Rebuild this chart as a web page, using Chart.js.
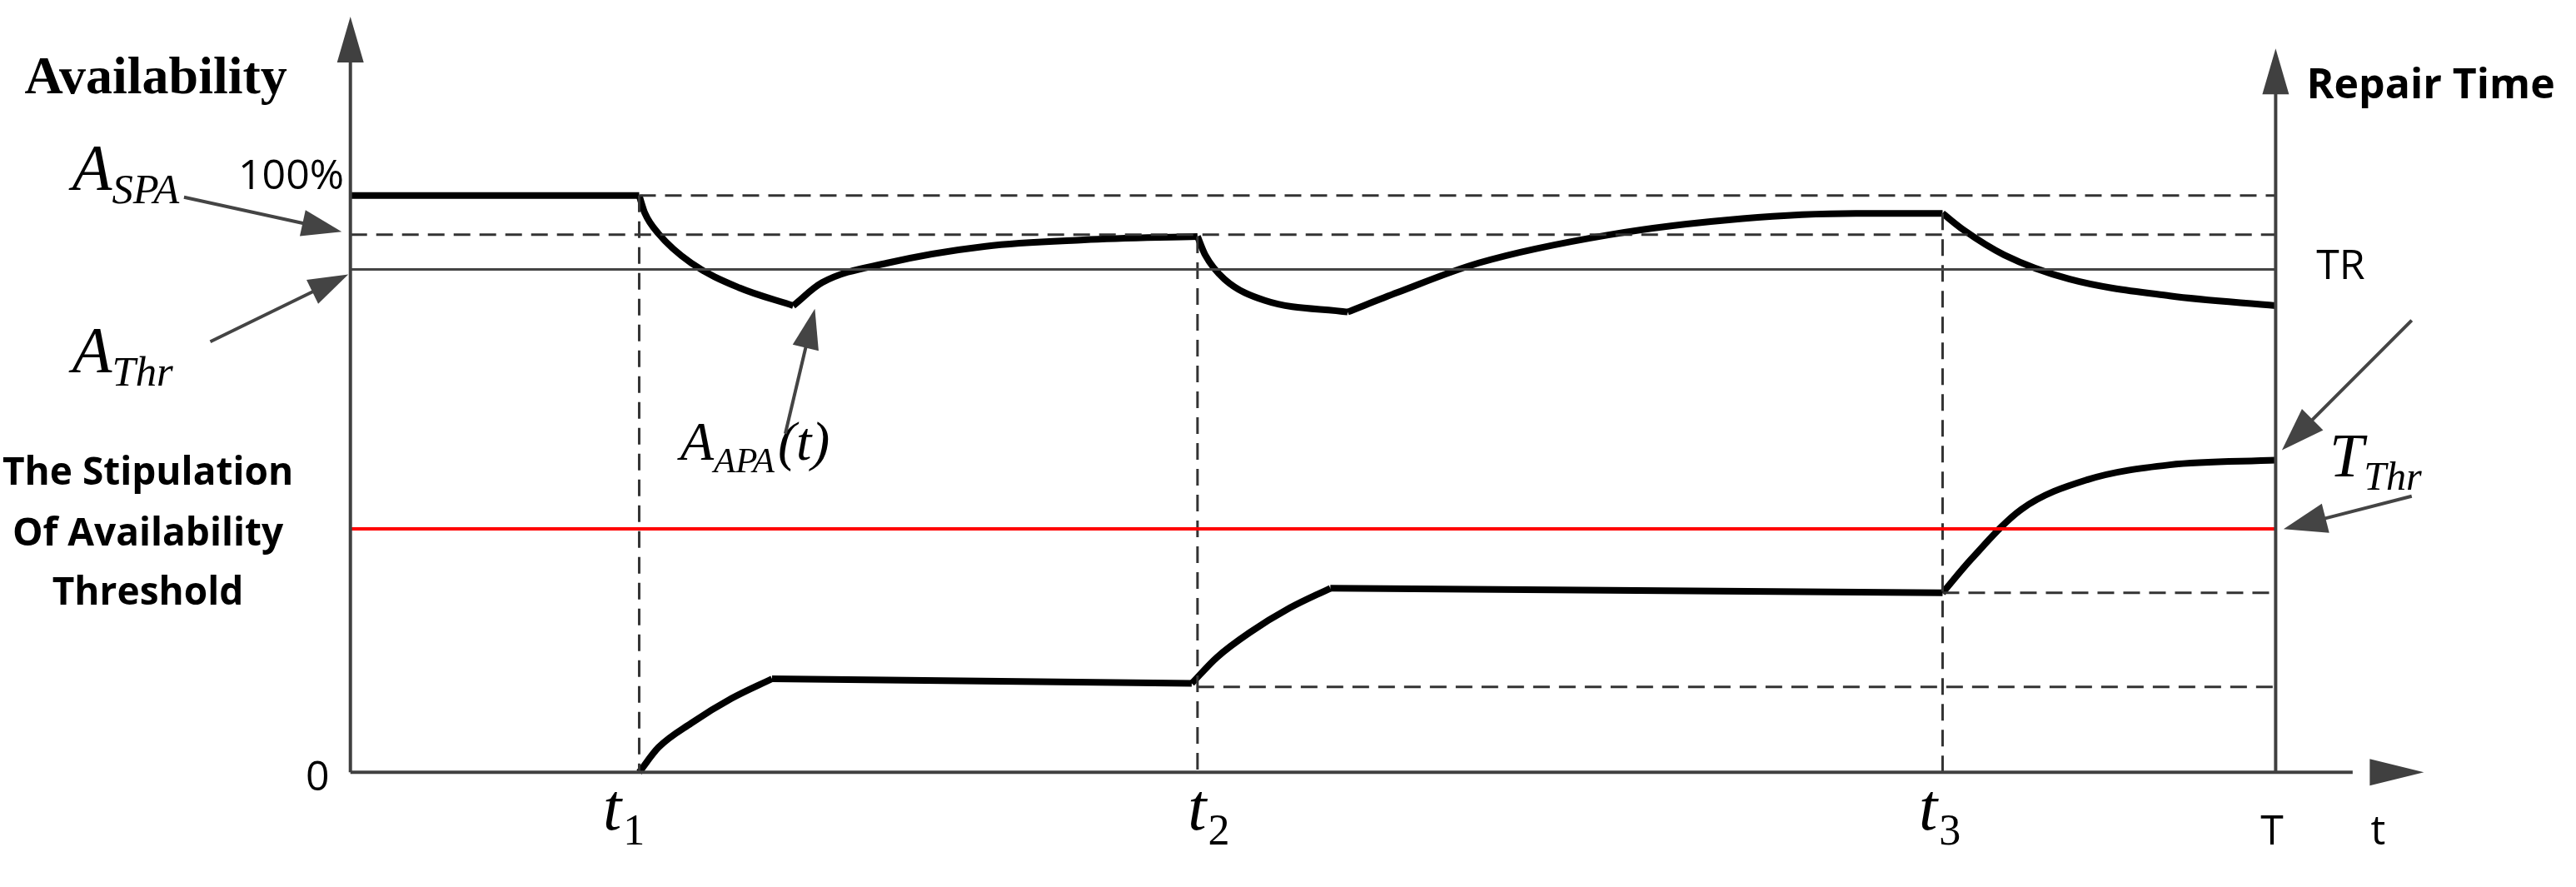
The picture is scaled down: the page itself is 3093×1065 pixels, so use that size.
<!DOCTYPE html>
<html><head><meta charset="utf-8">
<script src="https://cdn.jsdelivr.net/npm/chart.js@4"></script>
<style>html,body{margin:0;padding:0;background:#fff}#w{width:3093px;height:1065px}</style>
</head><body><div id="w"><canvas id="c"></canvas></div>
<script>
// time axis: 0 .. T=100 ; availability in %
const tickLabels = ["t1","t2","t3","T"];
const tickTimes = [15, 44, 82.7, 100];
const availSeg1 = [[0,100],[15,100]];
const availSeg2 = [[15,100],[15.3,96.9],[16,93.4],[17.7,88.3],[20.2,84],[23,80.9]];
const availSeg3 = [[23,80.9],[24.5,84.9],[27.9,88.3],[33,91.2],[38.1,92.3],[44,92.9]];
const availSeg4 = [[44,92.9],[44.4,89.7],[45.4,85.5],[47.5,81.8],[51.8,79.8]];
const availSeg5 = [[51.8,79.8],[54.4,83.2],[58.6,88.3],[65.4,93.2],[72.3,96],[78.2,96.9],[82.7,96.9]];
const availSeg6 = [[82.7,96.9],[83.8,94],[85.9,89.7],[89.3,85.5],[94.5,82.6],[100,80.9]];
const repairSeg1 = [[15,0],[16,4.3],[17.7,8.5],[19.8,12.8],[21.9,16.2]];
const repairSeg2 = [[21.9,16.2],[43.7,15.4]];
const repairSeg3 = [[43.7,15.4],[45,19.9],[46.7,24.2],[48.8,28.5],[50.9,31.9]];
const repairSeg4 = [[50.9,31.9],[82.7,31.1]];
const repairSeg5 = [[82.7,31.1],[84.2,37],[86.8,45.6],[90.2,50.7],[94.5,53.3],[100,54.1]];
const aSPA = 93.2, aThr = 87.2, thresholdLine = 42.2, levelT3 = 31.1, levelT2 = 14.8;

const S = 3093/1568;
const pts = a => a.map(p => ({x:p[0], y:p[1]}));
const bold = (a) => ({data:pts(a), borderColor:'#000', borderWidth:8, pointRadius:0, cubicInterpolationMode:'monotone', fill:false});
const dash = (a, c) => ({data:pts(a), borderColor:c||'#333', borderWidth:3, borderDash:[20,11], pointRadius:0, fill:false});
const solid = (a, c, w) => ({data:pts(a), borderColor:c, borderWidth:w, pointRadius:0, fill:false});

const datasets = [
  dash([[15,100],[100,100]]),
  dash([[0,aSPA],[100,aSPA]]),
  solid([[0,aThr],[100,aThr]], '#444', 3),
  solid([[0,thresholdLine],[100,thresholdLine]], '#ff0000', 4),
  dash([[82.7,levelT3],[100,levelT3]]),
  dash([[44,levelT2],[100,levelT2]]),
  dash([[tickTimes[0],100],[tickTimes[0],0]]),
  dash([[tickTimes[1],92.9],[tickTimes[1],0]]),
  dash([[tickTimes[2],96.9],[tickTimes[2],0]]),
  bold(availSeg1),bold(availSeg2),bold(availSeg3),bold(availSeg4),bold(availSeg5),bold(availSeg6),
  bold(repairSeg1),bold(repairSeg2),bold(repairSeg3),bold(repairSeg4),bold(repairSeg5)
];

function arrowHead(ctx, x1,y1,x2,y2,len,wid,color){
  const a=Math.atan2(y2-y1,x2-x1);
  ctx.fillStyle=color;ctx.beginPath();
  ctx.moveTo(x2,y2);
  ctx.lineTo(x2-len*Math.cos(a)+wid*Math.sin(a), y2-len*Math.sin(a)-wid*Math.cos(a));
  ctx.lineTo(x2-len*Math.cos(a)-wid*Math.sin(a), y2-len*Math.sin(a)+wid*Math.cos(a));
  ctx.closePath();ctx.fill();
}
function arrow(ctx,x1,y1,x2,y2,color,w,len,wid){
  const a=Math.atan2(y2-y1,x2-x1);
  ctx.strokeStyle=color;ctx.lineWidth=w;ctx.beginPath();ctx.moveTo(x1,y1);
  ctx.lineTo(x2-len*0.8*Math.cos(a),y2-len*0.8*Math.sin(a));ctx.stroke();
  arrowHead(ctx,x1,y1,x2,y2,len,wid,color);
}
function subText(ctx, main, sub, x, y, size, extra, subUpright){
  ctx.font='italic '+size+'px "Liberation Serif"';ctx.textAlign='left';ctx.textBaseline='alphabetic';
  ctx.fillStyle='#000';ctx.fillText(main,x,y);
  const w=ctx.measureText(main).width;
  ctx.font=(subUpright?'':'italic ')+(size*0.65)+'px "Liberation Serif"';ctx.fillText(sub,x+w+(subUpright?2:0),y+size*0.22);
  if(extra){const w2=ctx.measureText(sub).width;ctx.font='italic '+size+'px "Liberation Serif"';ctx.fillText(extra,x+w+w2+4,y);}
}

const deco = {id:'deco', afterDatasetsDraw(chart){
  const ctx=chart.ctx, X=chart.scales.x, Y=chart.scales.y;
  const px=v=>X.getPixelForValue(v), py=v=>Y.getPixelForValue(v);
  const ax='#404040';
  ctx.save();
  // axes
  ctx.strokeStyle=ax;ctx.lineWidth=4;
  ctx.beginPath();ctx.moveTo(px(0),py(0));ctx.lineTo(px(0),py(126));ctx.stroke();
  arrowHead(ctx,px(0),py(0),px(0),py(131),55,16,ax);
  ctx.beginPath();ctx.moveTo(px(100),py(0));ctx.lineTo(px(100),py(121));ctx.stroke();
  arrowHead(ctx,px(100),py(0),px(100),py(125.5),55,16,ax);
  ctx.beginPath();ctx.moveTo(px(0),py(0));ctx.lineTo(px(104),py(0));ctx.stroke();
  arrowHead(ctx,px(0),py(0),px(107.7),py(0),65,16,ax);
  // text
  ctx.fillStyle='#000';ctx.textBaseline='alphabetic';
  ctx.font='bold 64px "Liberation Serif"';ctx.textAlign='left';ctx.fillText('Availability',15*S,57*S);
  ctx.font='bold 50px "Open Sans"';ctx.fillText('Repair Time',1404*S,60*S);
  ctx.textAlign='center';
  ctx.font='bold 46px "Open Sans"';
  ctx.fillText('The Stipulation',90*S,295*S);
  ctx.fillText('Of Availability',90*S,332*S);
  ctx.fillText('Threshold',90*S,368*S);
  ctx.font='50px "Open Sans"';ctx.textAlign='left';
  ctx.fillText('100%',145*S,115*S);
  ctx.fillText('0',186*S,481*S);
  ctx.fillText('TR',1410*S,170*S);
  ctx.fillText('T',1376*S,514*S);
  ctx.fillText('t',1443*S,514*S);
  subText(ctx,'A','SPA',44*S,115*S,78);
  subText(ctx,'A','Thr',44*S,226*S,78);
  subText(ctx,'A','APA',414*S,280*S,66,'(t)');
  subText(ctx,'T','Thr',1418*S,290*S,74);
  [['t','1',367],['t','2',723],['t','3',1168]].forEach(a=>subText(ctx,a[0],a[1],a[2]*S,505*S,80,null,true));
  // annotation arrows
  const g='#444';
  arrow(ctx,112*S,120*S,208*S,141*S,g,4,48,16);
  arrow(ctx,128*S,208*S,212*S,167*S,g,4,48,16);
  arrow(ctx,478*S,264*S,496*S,188*S,g,4,48,16);
  arrow(ctx,1468*S,195*S,1389*S,274*S,g,4,52,18);
  arrow(ctx,1468*S,302*S,1390*S,322*S,g,4,52,18);
  ctx.restore();
}};

new Chart(document.getElementById('c'),{
  type:'line',
  data:{datasets},
  options:{responsive:true,maintainAspectRatio:false,animation:false,devicePixelRatio:1,
    layout:{padding:0},
    plugins:{legend:{display:false},tooltip:{enabled:false}},
    scales:{
      x:{type:'linear',display:false,min:-18.2,max:115.6},
      y:{type:'linear',display:false,min:-19.9,max:133.9}
    }},
  plugins:[deco]
});
</script></body></html>
